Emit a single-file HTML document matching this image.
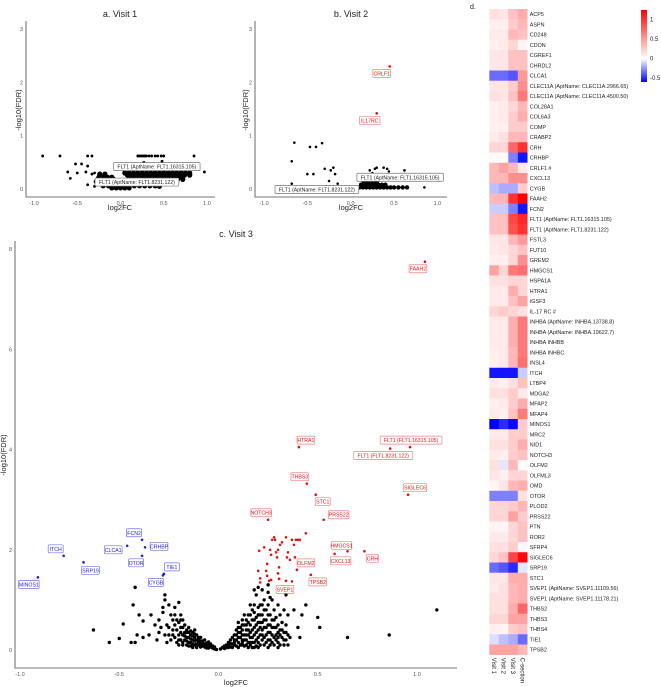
<!DOCTYPE html>
<html><head><meta charset="utf-8"><style>
body{margin:0;background:#fff;}
svg{display:block;font-family:"Liberation Sans",sans-serif;}
.tick{font-size:5.5px;fill:#555;}
.axl{font-size:7.5px;fill:#222;}
.ttl{font-size:9px;fill:#222;}
.hl{font-size:5.4px;fill:#222;}
</style></head><body>
<svg id="fig" width="661" height="687" viewBox="0 0 661 687"></svg>
<script>
// ---------- DATA ----------
const v1Points=[[-0.9,0.62],[-0.7,0.62],[-0.38,0.62],[-0.33,0.62],[-0.52,0.47],[-0.45,0.47],[-0.38,0.43],[-0.61,0.32],[-0.58,0.2],[-0.5,0.3],[-0.4,0.32],[-0.38,0.08],[-0.33,0.28],[-0.3,0.3],[-0.28,0.15],[-0.3,0.05],
[0.2,0.62],[0.22,0.62],[0.24,0.62],[0.26,0.62],[0.28,0.62],[0.3,0.62],[0.33,0.62],[0.36,0.62],[0.4,0.62],[0.43,0.62],[0.47,0.62],[0.5,0.62],[0.85,0.62],[0.97,0.32],[0.27,0.5],[0.48,0.52],[0.62,0.2]];
const v1Band=[[0.05,0.3],[0.1,0.3],[0.15,0.3],[0.2,0.3],[0.25,0.3],[0.3,0.3],[0.35,0.3],[0.4,0.3],[0.45,0.3],[0.5,0.3],[0.55,0.3],[0.6,0.3],[0.65,0.3],[0.7,0.3],[0.75,0.3],[0.8,0.3],
[-0.25,0.22],[-0.2,0.22],[-0.15,0.22],[-0.1,0.22],[0.1,0.22],[0.15,0.22],[0.2,0.22],[0.25,0.22],[0.3,0.22],[0.35,0.22],[0.4,0.22],[0.45,0.22],[0.5,0.22],[0.55,0.22],[0.6,0.22],[0.65,0.22],[0.7,0.22],
[-0.28,0.14],[-0.22,0.14],[-0.16,0.14],[-0.1,0.14],[-0.04,0.1],[0.08,0.14],[0.14,0.14],[0.2,0.14],[0.26,0.14],[0.32,0.14],[0.38,0.14],[0.44,0.14],[0.5,0.14],[0.56,0.14],[0.62,0.14],
[-0.2,0.06],[-0.14,0.06],[-0.08,0.06],[-0.02,0.06],[0.04,0.06],[0.1,0.06],[0.16,0.06],[0.22,0.06],[0.28,0.06],[0.34,0.06],[0.4,0.06],[0.45,0.05],
[-0.1,0.02],[-0.05,0.02],[0,0.02],[0.05,0.02],[0.1,0.02],[-0.24,0.28],[-0.18,0.28],
[-0.26,0.18],[-0.2,0.18],[-0.14,0.18],[-0.08,0.18],[0.12,0.18],[0.18,0.18],[0.24,0.18],[0.3,0.18],[0.36,0.18],[0.42,0.18],[0.48,0.18],[0.54,0.18],[0.6,0.18],[0.66,0.18],[0.72,0.18],
[0.08,0.26],[0.14,0.26],[0.2,0.26],[0.26,0.26],[0.32,0.26],[0.38,0.26],[0.44,0.26],[0.5,0.26],[0.56,0.26],[0.62,0.26],[0.68,0.26],[0.74,0.26],[0.8,0.26],
[-0.24,0.1],[-0.18,0.1],[-0.12,0.1],[-0.06,0.1],[0,0.1],[0.06,0.1],[0.12,0.1],[0.18,0.1],[0.24,0.1],[0.3,0.1],[0.36,0.1],[0.42,0.1],[0.48,0.1]];
const v1Labels=[["FLT1 (AptName: FLT1.16315.105)",0.42,0.42],["FLT1 (AptName: FLT1.8231.122)",0.19,0.13]];

const v2Points=[[-0.68,0.52],[-0.65,0.87],[-0.47,0.79],[-0.4,0.79],[-0.33,0.86],[-0.5,0.28],[-0.43,0.28],[-0.3,0.38],[-0.23,0.35],[-0.2,0.4],[-0.18,0.28],[-0.25,0.15],[-0.15,0.1],[-0.68,0.1],[-0.2,0.05],[-0.28,0.05],[-0.24,0.05],[0.85,0.03],
[0.22,0.35],[0.25,0.3],[0.28,0.38],[0.3,0.4],[0.38,0.4],[0.42,0.38],[0.44,0.33],[0.62,0.35],[0.62,0.28]];
const v2Band=[[0.1,0.03],[0.14,0.03],[0.18,0.03],[0.22,0.03],[0.26,0.03],[0.3,0.03],[0.34,0.03],[0.38,0.03],[0.42,0.03],[0.46,0.03],[0.5,0.03],[0.55,0.03],[0.6,0.03],[0.65,0.03],
[0.12,0.08],[0.16,0.08],[0.2,0.08],[0.24,0.08],[0.28,0.08],[0.32,0.08],[0.36,0.08],[0.4,0.08],[0.15,0.13],[0.2,0.13],[0.25,0.13],[0.3,0.13]];
const v2Sig=[["CRLF1",0.45,2.3],["IL17RC",0.3,1.42]];
const v2SigOffsets=[[-8,7],[-7,7]];
const v2Labels=[["FLT1 (AptName: FLT1.16315.105)",0.57,0.22],["FLT1 (AptName: FLT1.8231.122)",-0.39,-0.01]];

const v3Points=[[-0.63,0.4],[-0.55,0.15],[-0.5,0.23],[-0.48,0.52],[-0.44,0.15],[-0.42,0.15],[-0.43,0.9],[-0.42,1.25],[-0.41,0.3],[-0.4,0.7],[-0.38,0.58],[-0.38,0.25],[-0.35,0.3],[-0.34,0.7],[-0.32,0.5],[-0.31,0.2],[-0.3,0.6],[-0.3,0.35],[-0.28,0.85],[-0.28,0.75],[-0.27,1.0],[-0.27,1.1],[-0.26,0.5],[-0.25,0.3],[-0.25,0.9],[-0.24,0.7],[-0.23,0.6],[-0.23,0.4],[-0.22,0.25],[-0.22,0.85],[-0.21,0.15],[-0.2,0.55],[-0.2,0.95],[-0.19,0.45],[-0.19,0.7],[-0.18,0.3],[-0.18,0.6],[-0.17,0.2],[-0.17,0.5],[-0.16,0.35],[-0.16,0.1],[-0.15,0.45],[-0.15,0.25],[-0.14,0.3],[-0.14,0.15],[-0.13,0.35],[-0.13,0.2],[-0.12,0.25],[-0.12,0.1],[-0.11,0.2],[-0.1,0.15],[-0.1,0.25],[-0.09,0.12],[-0.08,0.18],[-0.08,0.08],[-0.07,0.12],[-0.06,0.08],[-0.05,0.1],[-0.05,0.04],[-0.04,0.06],[-0.03,0.04],[-0.02,0.02],[-0.01,0.01],
[-0.21,0.4],[-0.2,0.3],[-0.19,0.2],[-0.18,0.45],[-0.17,0.35],[-0.16,0.25],[-0.15,0.35],[-0.14,0.22],[-0.13,0.28],[-0.12,0.18],[-0.11,0.12],[-0.1,0.2],[-0.09,0.18],[-0.07,0.06],[-0.06,0.14],[-0.2,0.1],[-0.18,0.15],[-0.16,0.4],[-0.15,0.15],[-0.24,0.2],[-0.26,0.15],[-0.22,0.5],
[-0.2,0.2],[-0.19,0.35],[-0.18,0.1],[-0.17,0.28],[-0.16,0.18],[-0.15,0.08],[-0.14,0.38],[-0.13,0.12],[-0.12,0.32],[-0.11,0.3],[-0.1,0.1],[-0.09,0.25],[-0.08,0.13],[-0.07,0.2],[-0.06,0.04],[-0.05,0.16],[-0.04,0.12],[-0.03,0.08],[-0.02,0.06],[-0.11,0.05],[-0.13,0.05],[-0.09,0.06],[-0.14,0.08],[-0.12,0.4],[-0.19,0.6],[-0.21,0.6],[-0.23,0.3],[-0.25,0.45],[-0.27,0.3],[-0.29,0.45],[-0.22,0.7],
[0.01,0.02],[0.02,0.05],[0.03,0.08],[0.04,0.1],[0.05,0.15],[0.05,0.05],[0.06,0.2],[0.07,0.12],[0.07,0.25],[0.08,0.3],[0.08,0.1],[0.09,0.2],[0.1,0.35],[0.1,0.15],[0.11,0.25],[0.11,0.45],[0.12,0.3],[0.12,0.1],[0.13,0.5],[0.13,0.2],[0.14,0.4],[0.14,0.6],[0.15,0.3],[0.15,0.15],[0.15,0.7],[0.16,0.5],[0.16,0.25],[0.17,0.8],[0.17,0.4],[0.17,0.15],[0.18,0.6],[0.18,0.3],[0.18,0.9],[0.19,0.5],[0.19,0.2],[0.19,1.1],[0.2,0.7],[0.2,0.4],[0.2,0.15],[0.21,0.9],[0.21,0.55],[0.21,0.3],[0.22,1.2],[0.22,0.7],[0.22,0.2],[0.23,0.45],[0.23,1.0],[0.23,0.8],[0.24,0.6],[0.24,0.3],[0.24,0.15],[0.25,0.9],[0.25,0.5],[0.25,1.15],[0.26,0.7],[0.26,0.35],[0.26,0.2],[0.27,0.6],[0.27,1.0],[0.28,0.45],[0.28,0.25],[0.28,0.8],[0.29,0.65],[0.29,0.3],[0.3,0.5],[0.3,0.9],[0.3,0.15],[0.31,0.4],[0.31,0.7],[0.32,0.25],[0.32,0.55],[0.33,0.35],[0.33,0.8],[0.34,0.2],[0.34,0.5],[0.35,0.1],[0.35,0.3],[0.35,0.7],[0.36,0.25],[0.38,0.8],[0.4,0.45],[0.41,0.25],[0.42,0.7],[0.44,0.9],[0.5,0.65],[0.51,0.45],[0.65,0.25],[0.86,0.3],[1.1,0.8],[0.34,1.1],[0.2,1.25],[0.25,1.3],[0.18,1.2],[0.26,1.05],[0.16,0.9],[0.13,0.7],[0.1,0.55],[0.09,0.4],[0.12,0.6],[0.14,0.2],[0.16,0.1],[0.2,0.05],[0.25,0.05],[0.3,0.05],[0.12,0.4],[0.18,0.05],[0.22,0.4],[0.27,0.15],[0.3,0.35],[0.33,0.1],
[0.03,0.03],[0.04,0.05],[0.05,0.1],[0.06,0.06],[0.06,0.13],[0.07,0.05],[0.08,0.2],[0.09,0.08],[0.09,0.3],[0.1,0.05],[0.1,0.25],[0.11,0.1],[0.11,0.35],[0.12,0.2],[0.12,0.5],[0.13,0.08],[0.13,0.3],[0.14,0.1],[0.14,0.5],[0.15,0.05],[0.15,0.4],[0.15,0.55],[0.16,0.35],[0.16,0.7],[0.17,0.05],[0.17,0.25],[0.17,0.6],[0.18,0.15],[0.18,0.45],[0.18,0.75],[0.19,0.08],[0.19,0.35],[0.19,0.65],[0.2,0.25],[0.2,0.55],[0.2,0.85],[0.21,0.1],[0.21,0.45],[0.21,0.7],[0.22,0.3],[0.22,0.55],[0.22,0.9],[0.23,0.1],[0.23,0.25],[0.23,0.6],[0.24,0.45],[0.24,0.8],[0.25,0.2],[0.25,0.35],[0.25,0.7],[0.26,0.1],[0.26,0.5],[0.27,0.3],[0.27,0.45],[0.28,0.1],[0.28,0.6],[0.29,0.2],[0.29,0.45],[0.3,0.25],[0.31,0.1],[0.31,0.3],[0.32,0.4],[0.33,0.2],[0.34,0.35],[0.16,0.15],[0.14,0.3],[0.12,0.15],[0.08,0.15],[0.1,0.45]];
const v3RedPoints=[[0.2,1.58],[0.21,1.35],[0.21,1.43],[0.205,1.98],[0.23,2.05],[0.24,1.58],[0.245,1.48],[0.245,1.72],[0.255,1.38],[0.26,2.0],[0.265,1.9],[0.27,2.2],[0.28,2.25],[0.285,2.2],[0.29,1.95],[0.295,1.85],[0.3,2.0],[0.3,1.53],[0.31,2.1],[0.32,2.15],[0.34,2.25],[0.35,1.95],[0.345,1.85],[0.36,1.8],[0.37,2.2],[0.38,2.1],[0.385,1.85],[0.39,2.2],[0.4,2.2],[0.41,2.2],[0.44,2.33],[0.305,1.65],[0.305,1.42],[0.265,1.4],[0.34,1.38]];
const v3UpGenes=["FAAH2","HTRA1","FLT1 (FLT1.16315.105)","FLT1 (FLT1.8231.122)","THBS3","STC1","SIGLEC6","PRSS22","NOTCH3","HMGCS1","CXCL13","CRH","OLFM2","TPSB2","SVEP1"];
const v3UpX=[1.04,0.405,0.965,0.865,0.445,0.49,0.955,0.53,0.25,0.65,0.585,0.735,0.395,0.465,0.37];
const v3UpY=[7.75,4.05,4.05,4.02,3.32,3.1,3.1,2.6,2.6,1.97,1.92,1.97,1.6,1.5,1.37];
const v3UpOffsets=[[-7,7],[7,-7],[1,-7],[-7,7],[-7,-7],[7,7],[7,-7],[15,-5],[-7,-7],[-6,-6],[6,7],[8,7],[9,-7],[7,7],[-7,8]];
const v3DownGenes=["MINOS1","ITCH","SRP19","CLCA1","FCN2","CRHBP","OTOR","TIE1","CYGB"];
const v3DownX=[-0.91,-0.78,-0.68,-0.46,-0.385,-0.37,-0.385,-0.275,-0.28];
const v3DownY=[1.45,1.88,1.75,2.08,2.2,2.05,1.88,1.52,1.49];
const v3DownOffsets=[[-9,7],[-8,-7],[7,8],[-14,4],[-8,-7],[14,-1],[-6,7],[8,-7],[-7,7]];

const xTicks=[-1.0,-0.5,0.0,0.5,1.0];
const xTickLabels=["-1.0","-0.5","0.0","0.5","1.0"];
const yTicksAB=[0,1,2,3];
const yTicksC=[0,2,4,6,8];

const heatGenes=["ACP5","ASPN","CD248","CDON","CGREF1","CHRDL2","CLCA1","CLEC11A (AptName: CLEC11A.2966.65)","CLEC11A (AptName: CLEC11A.4500.50)","COL28A1","COL6A3","COMP","CRABP2","CRH","CRHBP","CRLF1 #","CXCL13","CYGB","FAAH2","FCN2","FLT1 (AptName: FLT1.16315.105)","FLT1 (AptName: FLT1.8231.122)","FSTL3","FUT10","GREM2","HMGCS1","HSPA1A","HTRA1","IGSF3","IL-17 RC #","INHBA (AptName: INHBA.13738.8)","INHBA (AptName: INHBA.19622.7)","INHBA INHBB","INHBA INHBC","INSL4","ITCH","LTBP4","MDGA2","MFAP2","MFAP4","MINOS1","MRC2","NID1","NOTCH3","OLFM2","OLFML3","OMD","OTOR","PLOD2","PRSS22","PTN","ROR2","SFRP4","SIGLEC6","SRP19","STC1","SVEP1 (AptName: SVEP1.11109.56)","SVEP1 (AptName: SVEP1.11178.21)","THBS2","THBS3","THBS4","TIE1","TPSB2"];
const heatCols=["Visit 1","Visit 2","Visit 3","C-section"];
const heatV1=[.15,.08,.1,.08,.12,.12,-.35,.12,.15,.08,.08,.08,.1,.2,.02,.35,.35,-.15,.35,-.12,.3,.3,.12,.1,.08,.45,.15,.1,.1,.2,.1,.1,.1,.08,.08,-.55,.1,.15,.08,.1,-.6,.1,.15,.1,.15,.12,.05,-.3,.2,.2,.05,.1,.15,.2,-.35,.12,.1,.15,.15,.2,.08,-.08,.45];
const heatV2=[.12,.08,.1,.1,.12,.12,-.35,.12,.12,.1,.1,.08,.15,.2,.02,.45,.35,-.2,.35,-.12,.3,.3,.12,.12,.08,.2,.15,.1,.1,.25,.1,.1,.1,.1,.1,-.55,.08,.15,.1,.08,-.5,.1,.15,.08,-.06,.08,.12,-.3,.2,.2,.05,.1,.15,.3,-.4,.12,.15,.15,.15,.2,.05,-.15,.45];
const heatV3=[.3,.25,.35,.2,.3,.3,-.4,.25,.3,.2,.25,.25,.35,.75,-.3,.35,.55,-.2,1.0,-.3,.9,.85,.35,.2,.2,.65,.2,.4,.3,.2,.4,.4,.4,.35,.35,-.55,.15,.25,.25,.3,-.58,.25,.25,.25,.35,.2,.35,-.3,.25,.45,.2,.2,.25,.9,-.5,.4,.35,.35,.4,.45,.25,-.2,.45];
const heatCS=[.4,.35,.3,.05,.3,.3,.5,.55,.65,.35,.4,.25,.35,1.0,-.55,.1,.55,.25,1.24,-.55,1.05,1.0,.5,.3,.55,.7,.2,.2,.45,.15,.65,.65,.65,.65,.7,-.12,.3,.1,.4,.65,.25,.25,.4,.3,.02,.2,.4,.15,.35,.25,.3,.3,-.02,1.2,-.06,.4,.4,.4,.75,.45,.3,-.35,.35];
const legendTicks=[1,0.5,0,-0.5];
const legendLabels=["1","0.5","0","-0.5"];

// ---------- DRAW ----------
const svg=document.getElementById('fig');
const NS='http://www.w3.org/2000/svg';
function mk(tag,attrs,parent){const e=document.createElementNS(NS,tag);for(const k in attrs)e.setAttribute(k,attrs[k]);(parent||svg).appendChild(e);return e;}

function panel(name,cfg){
  const g=mk('g',{});
  
  
  const sx=x=>cfg.x0+cfg.kx*x, sy=y=>cfg.y0-cfg.ky*y;
  const ax=mk('path',{d:`M${cfg.axX},${cfg.top}V${cfg.axY}H${cfg.right}`,stroke:'#777',fill:'none','stroke-width':1.1},g);
  
  
  xTicks.forEach((t,i)=>{
    const tl=mk('text',{x:sx(t),y:cfg.axY+8,'text-anchor':'middle',class:'tick'},g);tl.textContent=xTickLabels[i];
    
    
  });
  cfg.yt.forEach(t=>{
    const tl=mk('text',{x:cfg.axX-3,y:sy(t)+2,'text-anchor':'end',class:'tick'},g);tl.textContent=String(t);
    
    
  });
  const xl=mk('text',{x:cfg.xlx,y:cfg.xly,'text-anchor':'middle',class:'axl'},g);xl.textContent='log2FC';
  
  
  const yl=mk('text',{x:0,y:0,'text-anchor':'middle',class:'axl',transform:`translate(${cfg.ylx},${cfg.yly}) rotate(-90)`},g);yl.textContent='-log10(FDR)';
  
  
  const tt=mk('text',{x:cfg.tx,y:cfg.ty,'text-anchor':'middle',class:'ttl'},g);tt.textContent=cfg.title;
  
  
  return {g,sx,sy};
}
function dot(g,x,y,c,r){const d=mk('circle',{cx:x,cy:y,r:r||1.2,fill:c},g);
  
  return d;}
function label(g,txt,cx,cy,col,border){
  const w=txt.length*2.75+4;
  const r=mk('rect',{x:cx-w/2,y:cy-4,width:w,height:8,fill:'#fff',stroke:border,'stroke-width':0.7,rx:1},g);
  
  
  const t=mk('text',{x:cx,y:cy+2,'text-anchor':'middle',style:'font-size:5.2px',fill:col},g);t.textContent=txt;
  
  
}

// Panel a
const A=panel('panel-a-visit1',{x0:120.5,kx:86.5,y0:189,ky:53.3,axX:26,axY:197,top:21,right:215,yt:yTicksAB,xlx:120,xly:210,ylx:21,yly:110,tx:120,ty:17,title:'a. Visit 1'});
v1Points.forEach(p=>dot(A.g,A.sx(p[0]),A.sy(p[1]),'#000',1.4));
v1Band.forEach(p=>dot(A.g,A.sx(p[0]),A.sy(p[1]),'#000',2.6));
v1Labels.forEach(l=>label(A.g,l[0],A.sx(l[1]),A.sy(l[2]),'#222','#777'));

// Panel b
const B=panel('panel-b-visit2',{x0:350.7,kx:86.7,y0:189,ky:53.3,axX:255,axY:197,top:21,right:447,yt:yTicksAB,xlx:351,xly:210,ylx:248,yly:110,tx:351,ty:17,title:'b. Visit 2'});
v2Points.forEach(p=>dot(B.g,B.sx(p[0]),B.sy(p[1]),'#000',1.3));
v2Band.forEach(p=>dot(B.g,B.sx(p[0]),B.sy(p[1]),'#000',2.2));
v2Sig.forEach((s,i)=>{dot(B.g,B.sx(s[1]),B.sy(s[2]),'#e01010',1.3);label(B.g,s[0],B.sx(s[1])+v2SigOffsets[i][0],B.sy(s[2])+v2SigOffsets[i][1],'#e01010','#f08080');});
v2Labels.forEach(l=>label(B.g,l[0],B.sx(l[1]),B.sy(l[2]),'#222','#777'));

// Panel c
const C=panel('panel-c-visit3',{x0:218.5,kx:198.5,y0:650,ky:50.1,axX:15,axY:668,top:241,right:457,yt:yTicksC,xlx:236,xly:685,ylx:6,yly:455,tx:236,ty:237,title:'c. Visit 3'});
v3Points.forEach(p=>dot(C.g,C.sx(p[0]),C.sy(p[1]),'#000',1.7));
v3RedPoints.forEach(p=>dot(C.g,C.sx(p[0]),C.sy(p[1]),'#e01010',1.3));
v3UpGenes.forEach((n,i)=>{const x=C.sx(v3UpX[i]),y=C.sy(v3UpY[i]);dot(C.g,x,y,'#e01010',1.3);label(C.g,n,x+v3UpOffsets[i][0],y+v3UpOffsets[i][1],'#e01010','#f08080');});
v3DownGenes.forEach((n,i)=>{const x=C.sx(v3DownX[i]),y=C.sy(v3DownY[i]);dot(C.g,x,y,'#2020e0',1.3);label(C.g,n,x+v3DownOffsets[i][0],y+v3DownOffsets[i][1],'#2020e0','#7070f0');});

// Heatmap
const H=mk('g',{});


const dl=mk('text',{x:470,y:9,class:'ttl',style:'font-size:7px'},H);dl.textContent='d.';


const vmax=1.24,vmin=-0.6;
function col(v){
  if(v>=0){const t=Math.min(v/vmax,1);const gb=Math.round(255*(1-t));return `rgb(255,${gb},${gb})`;}
  const t=Math.min(v/vmin,1);const rg=Math.round(255*(1-t));return `rgb(${rg},${rg},255)`;
}
const hx0=489.3,cw=9.5,hy0=9,rh=10.25;
const series=[heatV1,heatV2,heatV3,heatCS];
heatGenes.forEach((g,r)=>{
  series.forEach((s,c)=>{
    const cell=mk('rect',{x:hx0+c*cw,y:hy0+r*rh,width:cw+0.2,height:rh+0.2,fill:col(s[r])},H);
    
    
  });
  const t=mk('text',{x:hx0+4*cw+2.5,y:hy0+r*rh+7,class:'hl'},H);t.textContent=g;
  
  
});
heatCols.forEach((c,i)=>{
  const t=mk('text',{x:0,y:0,class:'hl',style:'font-size:6px',transform:`translate(${hx0+i*cw+2.8},${hy0+heatGenes.length*rh+3}) rotate(90)`},H);t.textContent=c;
  
  
});
// colorbar
const defs=mk('defs',{});
const lg=mk('linearGradient',{id:'cb',x1:0,y1:0,x2:0,y2:1},defs);
mk('stop',{offset:'0%','stop-color':'#ff0000'},lg);
mk('stop',{offset:(vmax/(vmax-vmin)*100)+'%','stop-color':'#ffffff'},lg);
mk('stop',{offset:'100%','stop-color':'#0000ff'},lg);
const cbTop=10,cbBot=82;
const cbY=v=>cbTop+(vmax-v)/(vmax-vmin)*(cbBot-cbTop);
const cb=mk('rect',{x:641,y:cbTop,width:6,height:cbBot-cbTop,fill:'url(#cb)'},H);


legendTicks.forEach((v,i)=>{
  const t=mk('text',{x:650,y:cbY(v)+2,class:'hl',style:'font-size:6px'},H);t.textContent=legendLabels[i];
  
  
});
</script>
</body></html>
